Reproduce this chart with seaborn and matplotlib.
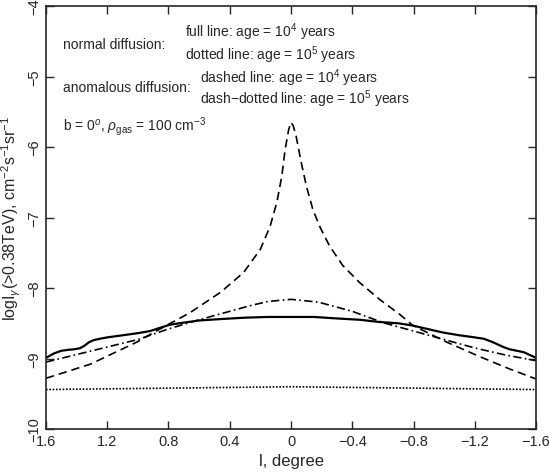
import numpy as np
import pandas as pd
import seaborn as sns
import matplotlib.pyplot as plt

# longitude l (degrees) and log intensity for each curve
full_l = [1.6, 1.55, 1.5, 1.45, 1.42, 1.38, 1.35, 1.32, 1.29, 1.25, 1.2, 1.1, 1.0, 0.92, 0.85,
          0.79, 0.7, 0.6, 0.46, 0.3, 0.15, 0.0, -0.15, -0.29, -0.45, -0.57, -0.7, -0.79, -0.89,
          -0.99, -1.1, -1.2, -1.26, -1.32, -1.39, -1.43, -1.52, -1.6]
full_y = [-8.99, -8.93, -8.89, -8.875, -8.87, -8.855, -8.82, -8.77, -8.74, -8.72, -8.70, -8.67,
          -8.64, -8.61, -8.56, -8.52, -8.49, -8.46, -8.44, -8.42, -8.41, -8.41, -8.41, -8.43,
          -8.45, -8.48, -8.50, -8.53, -8.58, -8.63, -8.67, -8.70, -8.72, -8.77, -8.84, -8.87,
          -8.91, -8.99]

dotted_l = [1.6, 0.8, 0.0, -0.8, -1.6]
dotted_y = [-9.44, -9.42, -9.40, -9.42, -9.44]

dashed_l = [1.6, 1.31, 1.01, 0.855, 0.66, 0.46, 0.31, 0.20, 0.136, 0.092, 0.06, 0.038, 0.015,
            0.0, -0.015, -0.033, -0.067, -0.10, -0.142, -0.186, -0.251, -0.338, -0.447,
            -0.578, -0.708, -0.795, -1.02, -1.24, -1.43, -1.6]
dashed_y = [-9.28, -9.08, -8.77, -8.58, -8.35, -8.06, -7.78, -7.45, -7.12, -6.78, -6.41, -6.03,
            -5.75, -5.65, -5.70, -5.84, -6.22, -6.55, -6.88, -7.12, -7.40, -7.68, -7.92, -8.16,
            -8.37, -8.53, -8.77, -8.98, -9.15, -9.29]

dashdot_l = [1.6, 1.3, 1.0, 0.8, 0.6, 0.4, 0.267, 0.15, 0.0, -0.18, -0.4, -0.6, -0.8, -1.0,
             -1.2, -1.4, -1.6]
dashdot_y = [-9.05, -8.89, -8.73, -8.58, -8.45, -8.33, -8.25, -8.19, -8.16, -8.20, -8.33,
             -8.49, -8.61, -8.73, -8.85, -8.95, -9.03]

sns.set_style("ticks")
plt.rcParams['font.family'] = ['Liberation Sans', 'DejaVu Sans']
plt.rcParams['mathtext.fontset'] = 'custom'
plt.rcParams['mathtext.rm'] = 'Liberation Sans'
plt.rcParams['mathtext.it'] = 'Liberation Sans:italic'

fig = plt.figure(figsize=(5.5, 4.77), dpi=100)
ax = fig.add_axes([0.0836, 0.0985, 0.891, 0.8865])

sns.lineplot(x=full_l, y=full_y, ax=ax, color='black', lw=1.6, sort=False)
sns.lineplot(x=dotted_l, y=dotted_y, ax=ax, color='black', lw=1.2, sort=False,
             linestyle=(0, (1, 1)))
sns.lineplot(x=dashed_l, y=dashed_y, ax=ax, color='black', lw=1.2, sort=False,
             linestyle=(0, (5, 3)))
sns.lineplot(x=dashdot_l, y=dashdot_y, ax=ax, color='black', lw=1.2, sort=False,
             linestyle=(0, (5, 2, 1, 2)))

ax.set_xlim(1.6, -1.6)
ax.set_ylim(-10, -4)
ax.set_xticks([1.6, 1.2, 0.8, 0.4, 0, -0.4, -0.8, -1.2, -1.6])
ax.set_xticklabels(['1.6', '1.2', '0.8', '0.4', '0', '\u22120.4', '\u22120.8', '\u22121.2', '\u22121.6'])
ax.set_yticks([-10, -9, -8, -7, -6, -5, -4])
ax.set_yticklabels(['\u221210', '\u22129', '\u22128', '\u22127', '\u22126', '\u22125', '\u22124'],
                   rotation=90, va='center')
ax.tick_params(direction='in', top=True, right=True, length=6, width=1, labelsize=10.5)
for s in ax.spines.values():
    s.set_linewidth(1.2)

ax.set_xlabel('l, degree', fontsize=12)
ax.set_ylabel(r'logI$_\gamma$(>0.38TeV), cm$^{-2}$s$^{-1}$sr$^{-1}$', fontsize=11.5)
ax.yaxis.set_label_coords(-0.046, 0.5)

fs = 10
ax.text(0.035, 0.911, 'normal diffusion:', transform=ax.transAxes, fontsize=fs, va='center')
ax.text(0.284, 0.940, r'full line: age = 10$^4$ years', transform=ax.transAxes, fontsize=fs, va='center')
ax.text(0.284, 0.887, r'dotted line: age = 10$^5$ years', transform=ax.transAxes, fontsize=fs, va='center')
ax.text(0.035, 0.808, 'anomalous diffusion:', transform=ax.transAxes, fontsize=fs, va='center')
ax.text(0.315, 0.833, r'dashed line: age = 10$^4$ years', transform=ax.transAxes, fontsize=fs, va='center')
ax.text(0.315, 0.783, r'dash$-$dotted line: age = 10$^5$ years', transform=ax.transAxes, fontsize=fs, va='center')
ax.text(0.035, 0.717, r'b = 0$^o$, $\rho_{\rm gas}$ = 100 cm$^{-3}$', transform=ax.transAxes, fontsize=fs, va='center')

fig.savefig('out.png', dpi=100)
